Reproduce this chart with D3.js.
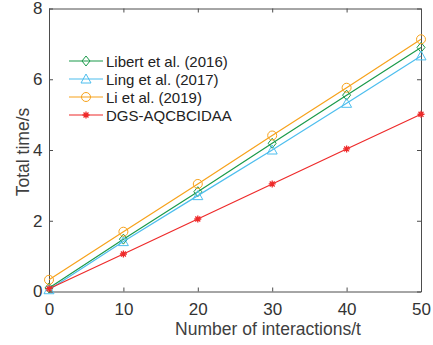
<!DOCTYPE html>
<html><head><meta charset="utf-8">
<script src="https://cdn.jsdelivr.net/npm/d3@7"></script>
<style>body{margin:0;background:#fff}svg{display:block}text{font-family:"Liberation Sans",Arial,sans-serif}</style>
</head><body><svg id="c" width="433" height="345"></svg>
<script>
const xValues = [0, 10, 20, 30, 40, 50];
const libert = [0.1, 1.48, 2.82, 4.19, 5.55, 6.90];
const ling = [0.05, 1.41, 2.71, 4.0, 5.32, 6.66];
const li = [0.33, 1.69, 3.04, 4.41, 5.76, 7.13];
const dgs = [0.08, 1.06, 2.05, 3.04, 4.03, 5.01];
const seriesNames = ["Libert et al. (2016)", "Ling et al. (2017)", "Li et al. (2019)", "DGS-AQCBCIDAA"];
const xTicks = [0, 10, 20, 30, 40, 50];
const yTicks = [0, 2, 4, 6, 8];

const series = [
  {name: seriesNames[0], vals: libert, color: "#1a9a4a", marker: "diamond"},
  {name: seriesNames[1], vals: ling, color: "#4dbeee", marker: "triangle"},
  {name: seriesNames[2], vals: li, color: "#f7a21b", marker: "circle"},
  {name: seriesNames[3], vals: dgs, color: "#ee2a2a", marker: "star"}
];

const svg = d3.select("#c");
const L = 49, R = 421, T = 8.5, B = 291.5;
const x = d3.scaleLinear().domain([0, 50]).range([L, R]);
const y = d3.scaleLinear().domain([0, 8]).range([B, T]);
const axisColor = "#4d4d4d";

const g = svg.append("g");
const xb = g.append("g").attr("transform", `translate(0,${B})`).call(d3.axisBottom(x).tickValues(xTicks).tickSizeInner(-4).tickSizeOuter(0).tickPadding(11));
const xt = g.append("g").attr("transform", `translate(0,${T})`).call(d3.axisTop(x).tickValues(xTicks).tickSizeInner(-4).tickSizeOuter(0).tickFormat(""));
const yl = g.append("g").attr("transform", `translate(${L},0)`).call(d3.axisLeft(y).tickValues(yTicks).tickSizeInner(-4).tickSizeOuter(0).tickPadding(6.5));
const yr = g.append("g").attr("transform", `translate(${R},0)`).call(d3.axisRight(y).tickValues(yTicks).tickSizeInner(-4).tickSizeOuter(0).tickFormat(""));
[xb, xt, yl, yr].forEach(a => {
  a.selectAll("path").attr("stroke", axisColor).attr("stroke-width", 1);
  a.selectAll("line").attr("stroke", axisColor);
  a.selectAll("text").attr("fill", "#333").style("font-size", "17px").style("font-family", '"Liberation Sans",Arial,sans-serif');
});

const line = d3.line().x((d, i) => x(xValues[i])).y(d => y(d));

function drawMarker(sel, type, cx, cy, color) {
  if (type === "circle") {
    sel.append("circle").attr("cx", cx).attr("cy", cy).attr("r", 4.5).attr("fill", "none").attr("stroke", color).attr("stroke-width", 1);
  } else if (type === "diamond") {
    sel.append("path").attr("d", `M${cx},${cy-5}L${cx+4},${cy}L${cx},${cy+5}L${cx-4},${cy}Z`).attr("fill", "none").attr("stroke", color).attr("stroke-width", 1);
  } else if (type === "triangle") {
    sel.append("path").attr("d", `M${cx},${cy-5}L${cx+5},${cy+4}L${cx-5},${cy+4}Z`).attr("fill", "none").attr("stroke", color).attr("stroke-width", 1);
  } else if (type === "star") {
    const r = 3.5;
    let d = "";
    for (let k = 0; k < 4; k++) {
      const a = k * Math.PI / 4;
      d += `M${cx - r*Math.cos(a)},${cy - r*Math.sin(a)}L${cx + r*Math.cos(a)},${cy + r*Math.sin(a)}`;
    }
    sel.append("path").attr("d", d).attr("stroke", color).attr("stroke-width", 1.3);
  }
}

series.forEach(s => {
  g.append("path").datum(s.vals).attr("d", line).attr("fill", "none").attr("stroke", s.color).attr("stroke-width", 1.2);
  const mg = g.append("g");
  s.vals.forEach((v, i) => drawMarker(mg, s.marker, x(xValues[i]), y(v), s.color));
});

const ly0 = 61, ldy = 18;
series.forEach((s, i) => {
  const yy = ly0 + i * ldy;
  g.append("line").attr("x1", 69).attr("x2", 103).attr("y1", yy).attr("y2", yy).attr("stroke", s.color).attr("stroke-width", 1.2);
  drawMarker(g, s.marker, 86, yy, s.color);
  g.append("text").attr("x", 106).attr("y", yy + 5.5).text(s.name).style("font-size", "15px").attr("fill", "#222");
});

svg.append("text").attr("x", 268).attr("y", 335).attr("text-anchor", "middle").text("Number of interactions/t").style("font-size", "17.5px").attr("fill", "#404040");
svg.append("text").attr("transform", `translate(29,152) rotate(-90)`).attr("text-anchor", "middle").text("Total time/s").style("font-size", "17.5px").attr("fill", "#404040");
</script></body></html>
